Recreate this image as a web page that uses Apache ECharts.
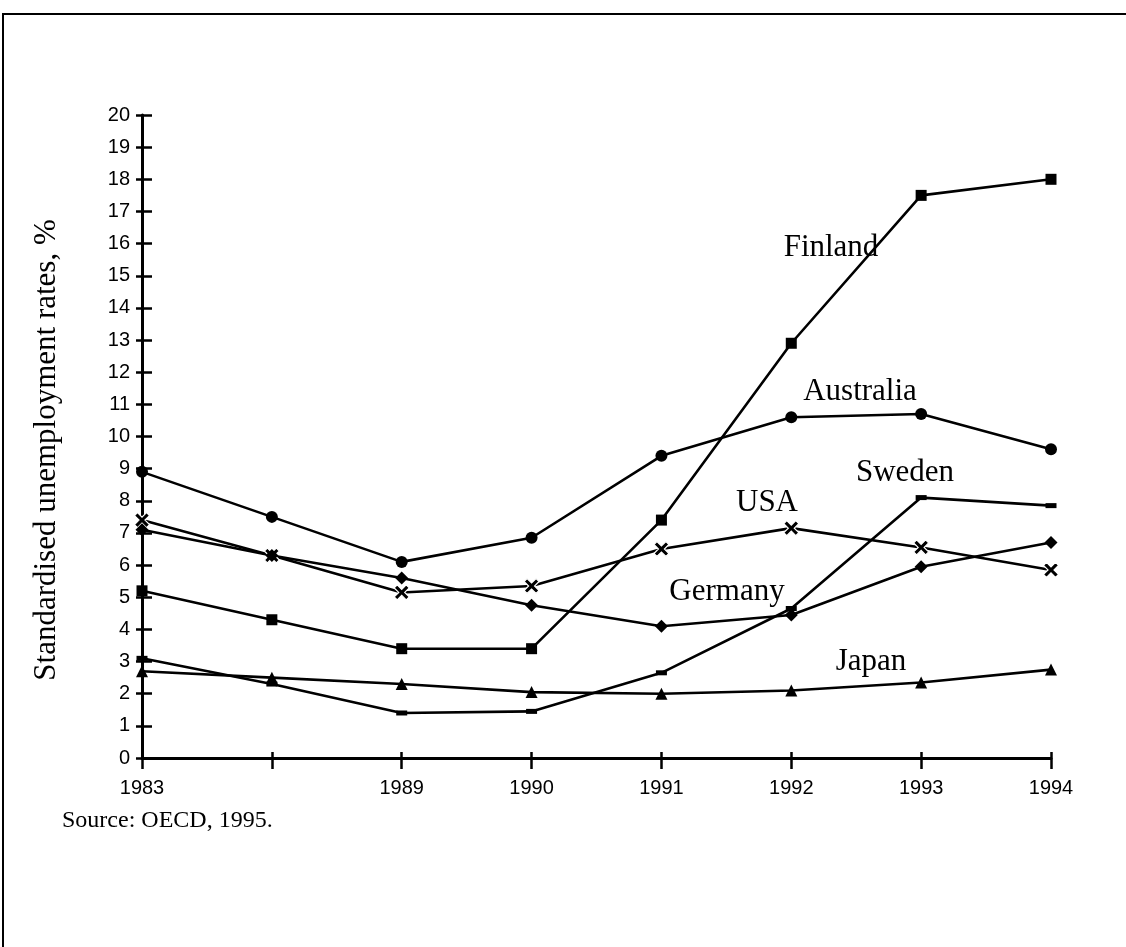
<!DOCTYPE html>
<html>
<head>
<meta charset="utf-8">
<script src="https://cdn.jsdelivr.net/npm/echarts@6/dist/echarts.min.js"></script>
<style>
  html, body { margin: 0; padding: 0; background: #fff; }
  #chart { width: 1126px; height: 947px; }
</style>
</head>
<body>
<div id="chart"></div>
<script>
// years on the x axis, the second one has no label in the original
var years = ['1983', '', '1989', '1990', '1991', '1992', '1993', '1994'];
var yTicks = [0, 20, 1];

var finland   = [5.2, 4.3, 3.4, 3.4, 7.4, 12.9, 17.5, 18.0];
var australia = [8.9, 7.5, 6.1, 6.85, 9.4, 10.6, 10.7, 9.6];
var usa       = [7.4, 6.3, 5.15, 5.35, 6.5, 7.15, 6.55, 5.85];
var germany   = [7.1, 6.3, 5.6, 4.75, 4.1, 4.45, 5.95, 6.7];
var sweden    = [3.1, 2.3, 1.4, 1.45, 2.65, 4.65, 8.1, 7.85];
var japan     = [2.7, 2.5, 2.3, 2.05, 2.0, 2.1, 2.35, 2.75];

var names = ['Finland', 'Australia', 'USA', 'Germany', 'Sweden', 'Japan'];
var source = 'Source: OECD, 1995.';
var yTitle = 'Standardised unemployment rates, %';

var serif = '"Liberation Serif", "Times New Roman", serif';
var sans = '"Liberation Sans", Arial, sans-serif';
var crossPath = 'path://M0,2L2,0L5,3L8,0L10,2L7,5L10,8L8,10L5,7L2,10L0,8L3,5Z';

var gridW = 1126 - 142 - 75;
var gridH = 947 - 115 - 189;

function mkLine(name, data, symbol, size, extra) {
    var s = {
        name: name,
        type: 'line',
        data: data,
        symbol: symbol,
        symbolSize: size,
        showSymbol: true,
        animation: false,
        lineStyle: {color: '#000', width: 2.6},
        itemStyle: {color: '#000'},
        emphasis: {disabled: true}
    };
    if (extra) {
        for (var k in extra) s[k] = extra[k];
    }
    return s;
}

function label(text, cx, cy) {
    return {
        type: 'text',
        x: cx, y: cy,
        style: {
            text: text, font: '31px ' + serif, fill: '#000',
            align: 'center', verticalAlign: 'middle'
        }
    };
}

var option = {
    backgroundColor: '#fff',
    animation: false,
    grid: {left: 142, right: 75, top: 115, bottom: 189},
    xAxis: [
        {
            type: 'category', data: years, boundaryGap: false,
            axisLine: {lineStyle: {color: '#000', width: 3}},
            axisTick: {length: 11, lineStyle: {color: '#000', width: 2.5}},
            axisLabel: {color: '#000', fontFamily: sans, fontSize: 20, margin: 20, interval: 0}
        },
        {
            // upward half of the cross ticks
            type: 'category', data: years, boundaryGap: false,
            position: 'top', offset: -gridH,
            axisLine: {show: false},
            axisTick: {length: 6, lineStyle: {color: '#000', width: 2.5}},
            axisLabel: {show: false}
        }
    ],
    yAxis: [
        {
            type: 'value', min: yTicks[0], max: yTicks[1], interval: yTicks[2],
            splitLine: {show: false},
            axisLine: {show: true, lineStyle: {color: '#000', width: 3}},
            axisTick: {show: true, length: 6, lineStyle: {color: '#000', width: 2.5}},
            axisLabel: {color: '#000', fontFamily: sans, fontSize: 20, margin: 12}
        },
        {
            // right half of the cross ticks
            type: 'value', min: yTicks[0], max: yTicks[1], interval: yTicks[2],
            position: 'right', offset: -gridW,
            splitLine: {show: false},
            axisLine: {show: false},
            axisTick: {show: true, length: 10, lineStyle: {color: '#000', width: 2.5}},
            axisLabel: {show: false}
        }
    ],
    series: [
        mkLine(names[0], finland, 'rect', 11),
        mkLine(names[1], australia, 'circle', 12),
        mkLine(names[2], usa, crossPath, 15, {
            itemStyle: {color: '#000', borderColor: '#fff', borderWidth: 1.2}
        }),
        mkLine(names[3], germany, 'diamond', 13),
        mkLine(names[4], sweden, 'rect', [11, 5]),
        mkLine(names[5], japan, 'triangle', 12)
    ],
    graphic: [
        {
            type: 'rect', silent: true,
            shape: {x: 3, y: 14, width: 1140, height: 950},
            style: {fill: 'none', stroke: '#000', lineWidth: 2}
        },
        label(names[0], 831, 248),
        label(names[1], 860, 392),
        label(names[2], 767, 503),
        label(names[3], 727, 592),
        label(names[4], 905, 473),
        label(names[5], 871, 662),
        {
            type: 'text', x: 62, y: 821,
            style: {text: source, font: '24px ' + serif, fill: '#000', verticalAlign: 'middle'}
        },
        {
            type: 'text', x: 47, y: 450, rotation: Math.PI / 2,
            style: {
                text: yTitle, font: '31px ' + serif, fill: '#000',
                align: 'center', verticalAlign: 'middle'
            }
        }
    ]
};

var chart = echarts.init(document.getElementById('chart'), null, {renderer: 'canvas'});
chart.setOption(option);
</script>
</body>
</html>
